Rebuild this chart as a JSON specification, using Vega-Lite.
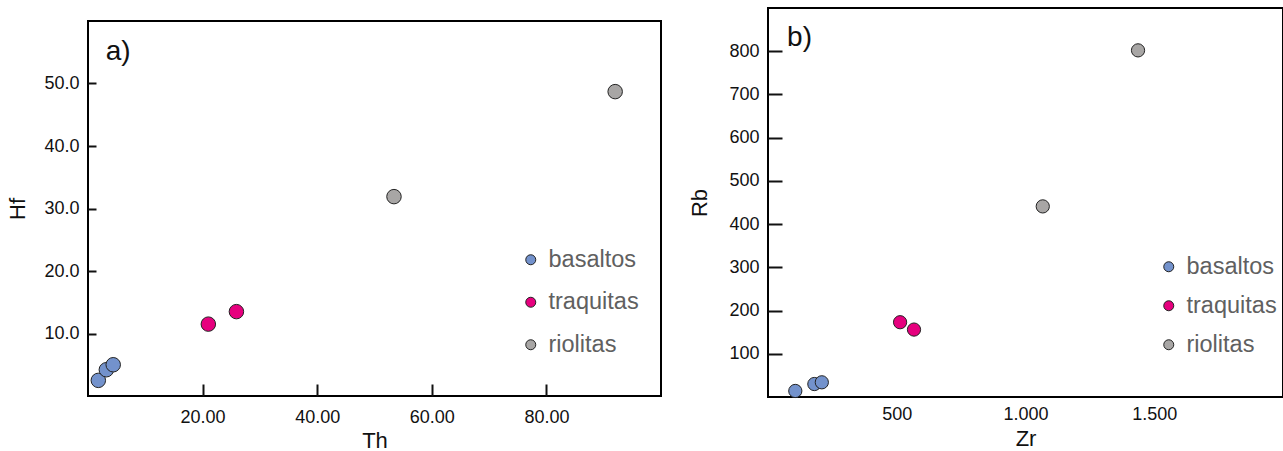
{
  "$schema": "https://vega.github.io/schema/vega-lite/v6.json",
  "padding": {"left": 5, "top": 7, "right": 0, "bottom": 0},
  "config": {
    "font": "Liberation Sans",
    "view": {"stroke": "black", "strokeWidth": 2},
    "axis": {
      "domain": false, "grid": false,
      "labelFont": "Liberation Sans", "labelFontSize": 18, "labelColor": "#111",
      "titleFont": "Liberation Sans", "titleFontSize": 22, "titleFontWeight": "normal", "titleColor": "#111",
      "tickColor": "#111", "tickWidth": 2
    },
    "legend": {"labelFont": "Liberation Sans"}
  },
  "datasets": {
    "a": [
      {"Th": 1.8, "Hf": 2.5, "tipo": "basaltos"},
      {"Th": 3.2, "Hf": 4.2, "tipo": "basaltos"},
      {"Th": 4.4, "Hf": 5.0, "tipo": "basaltos"},
      {"Th": 21.0, "Hf": 11.5, "tipo": "traquitas"},
      {"Th": 25.9, "Hf": 13.5, "tipo": "traquitas"},
      {"Th": 53.4, "Hf": 31.9, "tipo": "riolitas"},
      {"Th": 92.0, "Hf": 48.7, "tipo": "riolitas"}
    ],
    "b": [
      {"Zr": 106, "Rb": 14, "tipo": "basaltos"},
      {"Zr": 180, "Rb": 30, "tipo": "basaltos"},
      {"Zr": 209, "Rb": 34, "tipo": "basaltos"},
      {"Zr": 513, "Rb": 173, "tipo": "traquitas"},
      {"Zr": 567, "Rb": 156, "tipo": "traquitas"},
      {"Zr": 1067, "Rb": 441, "tipo": "riolitas"},
      {"Zr": 1437, "Rb": 802, "tipo": "riolitas"}
    ],
    "tagA": [{"Th": 3.1, "Hf": 53.8, "label": "a)"}],
    "tagB": [{"Zr": 74, "Rb": 811, "label": "b)"}],
    "spacer": [{}]
  },
  "resolve": {
    "scale": {"x": "independent", "y": "independent", "color": "independent"},
    "legend": {"color": "independent"}
  },
  "spacing": 25,
  "hconcat": [
    {
      "spacing": 10,
      "vconcat": [
        {
          "width": 573,
          "height": 2,
          "view": {"stroke": null},
          "data": {"name": "spacer"},
          "mark": {"type": "rule", "opacity": 0},
          "encoding": {}
        },
        {
          "width": 573,
          "height": 375,
          "layer": [
            {
              "data": {"name": "a"},
              "mark": {"type": "circle", "size": 210, "opacity": 1, "stroke": "#222", "strokeWidth": 1},
              "encoding": {
                "x": {"field": "Th", "type": "quantitative", "title": "Th",
                  "scale": {"domain": [0, 100], "nice": false, "zero": false},
                  "axis": {"values": [20, 40, 60, 80], "format": ".2f", "tickSize": -12, "labelPadding": 24, "titlePadding": 4}},
                "y": {"field": "Hf", "type": "quantitative", "title": "Hf",
                  "scale": {"domain": [0, 60], "nice": false, "zero": false},
                  "axis": {"values": [10, 20, 30, 40, 50], "format": ".1f", "tickSize": -8, "labelPadding": 17, "titlePadding": 14}},
                "color": {"field": "tipo", "type": "nominal",
                  "scale": {"domain": ["basaltos", "traquitas", "riolitas"], "range": ["#7392cc", "#e6007e", "#a8a6a5"]},
                  "legend": {"orient": "none", "legendX": 431, "legendY": 240, "title": null,
                    "labelFontSize": 23.5, "labelColor": "#606060", "rowPadding": 17.5, "labelOffset": 6,
                    "symbolType": "circle", "symbolSize": 100, "symbolStrokeColor": "#222", "symbolStrokeWidth": 1, "symbolOpacity": 1}}
              }
            },
            {
              "data": {"name": "tagA"},
              "mark": {"type": "text", "fontSize": 28, "align": "left", "baseline": "alphabetic", "color": "#111"},
              "encoding": {
                "x": {"field": "Th", "type": "quantitative"},
                "y": {"field": "Hf", "type": "quantitative"},
                "text": {"field": "label"}
              }
            }
          ]
        }
      ]
    },
    {
      "width": 515,
      "height": 389,
      "layer": [
        {
          "data": {"name": "b"},
          "mark": {"type": "circle", "size": 175, "opacity": 1, "stroke": "#222", "strokeWidth": 1},
          "encoding": {
            "x": {"field": "Zr", "type": "quantitative", "title": "Zr",
              "scale": {"domain": [0, 2000], "nice": false, "zero": false},
              "axis": {"values": [500, 1000, 1500], "ticks": false, "labelExpr": "replace(format(datum.value, ','), ',', '.')", "labelPadding": 8, "titlePadding": 5}},
            "y": {"field": "Rb", "type": "quantitative", "title": "Rb",
              "scale": {"domain": [0, 900], "nice": false, "zero": false},
              "axis": {"values": [100, 200, 300, 400, 500, 600, 700, 800], "format": "d", "tickSize": -14, "labelPadding": 23, "titlePadding": 17}},
            "color": {"field": "tipo", "type": "nominal",
              "scale": {"domain": ["basaltos", "traquitas", "riolitas"], "range": ["#7392cc", "#e6007e", "#a8a6a5"]},
              "legend": {"orient": "none", "legendX": 389, "legendY": 247, "title": null,
                "labelFontSize": 23.5, "labelColor": "#606060", "rowPadding": 14, "labelOffset": 6,
                "symbolType": "circle", "symbolSize": 100, "symbolStrokeColor": "#222", "symbolStrokeWidth": 1, "symbolOpacity": 1}}
          }
        },
        {
          "data": {"name": "tagB"},
          "mark": {"type": "text", "fontSize": 28, "align": "left", "baseline": "alphabetic", "color": "#111"},
          "encoding": {
            "x": {"field": "Zr", "type": "quantitative"},
            "y": {"field": "Rb", "type": "quantitative"},
            "text": {"field": "label"}
          }
        }
      ]
    }
  ]
}
